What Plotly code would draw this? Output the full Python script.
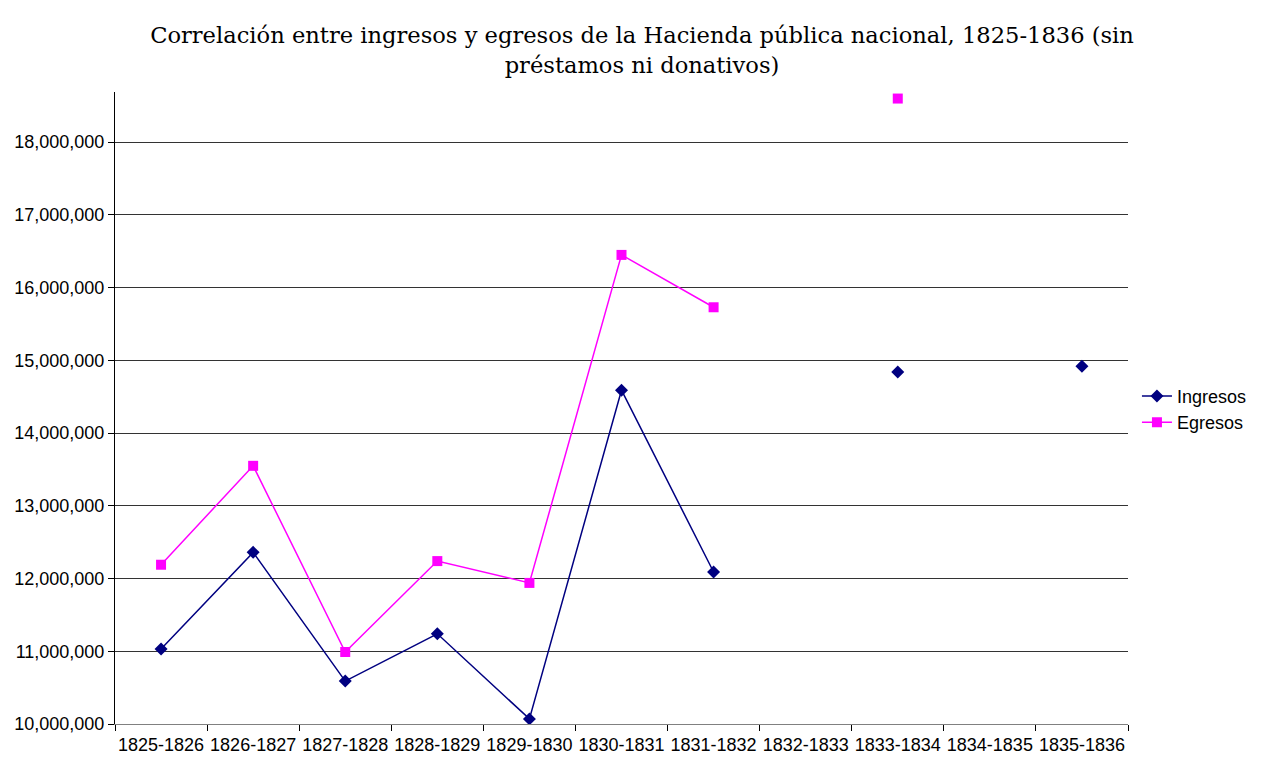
import plotly.graph_objects as go

categories = ["1825-1826", "1826-1827", "1827-1828", "1828-1829", "1829-1830",
              "1830-1831", "1831-1832", "1832-1833", "1833-1834", "1834-1835", "1835-1836"]
ingresos = [11030000, 12360000, 10590000, 11240000, 10070000, 14590000, 12090000,
            None, 14840000, None, 14920000]
egresos = [12190000, 13550000, 10990000, 12240000, 11940000, 16450000, 15730000,
           None, 18600000, None, None]
y_ticks = [10000000, 11000000, 12000000, 13000000, 14000000, 15000000, 16000000, 17000000, 18000000]
y_tick_labels = ["{:,}".format(v) for v in y_ticks]

fig = go.Figure()
fig.add_trace(go.Scatter(x=categories, y=ingresos, name="Ingresos", mode="lines+markers",
                         line=dict(color="#000080", width=1.5),
                         marker=dict(symbol="diamond", size=10, color="#000080")))
fig.add_trace(go.Scatter(x=categories, y=egresos, name="Egresos", mode="lines+markers",
                         line=dict(color="#FF00FF", width=1.5),
                         marker=dict(symbol="square", size=10, color="#FF00FF")))

fig.update_layout(
    width=1253, height=752,
    paper_bgcolor="white", plot_bgcolor="white",
    margin=dict(l=107, r=133, t=84, b=36, autoexpand=False),
    title=dict(text="Correlación entre ingresos y egresos de la Hacienda pública nacional, 1825-1836 (sin<br>préstamos ni donativos)",
               x=0.506, xanchor="center", y=0.953, yanchor="top",
               font=dict(family="DejaVu Serif", size=22.6, color="black")),
    font=dict(family="Liberation Sans, Arial", size=18, color="black"),
    legend=dict(xref="container", yref="paper", x=0.901, y=0.498, xanchor="left", yanchor="middle",
                font=dict(size=18), bgcolor="rgba(0,0,0,0)",
                tracegroupgap=0),
    showlegend=True,
)
fig.update_xaxes(type="category", range=[-0.5, 10.5], showgrid=False,
                 showline=True, linecolor="#808080", linewidth=1,
                 ticks="outside", tickson="boundaries", ticklen=6, tickcolor="black",
                 tickangle=0, automargin=False, ticklabelstandoff=4,
                 tickfont=dict(size=18))
fig.update_yaxes(range=[10000000, 18690000], tickvals=y_ticks, ticktext=y_tick_labels,
                 showgrid=True, gridcolor="#333333", gridwidth=1,
                 showline=True, linecolor="black", linewidth=1,
                 ticks="outside", ticklen=6, tickcolor="black", zeroline=False,
                 automargin=False,
                 tickfont=dict(size=18))

fig.write_html("out.html")
